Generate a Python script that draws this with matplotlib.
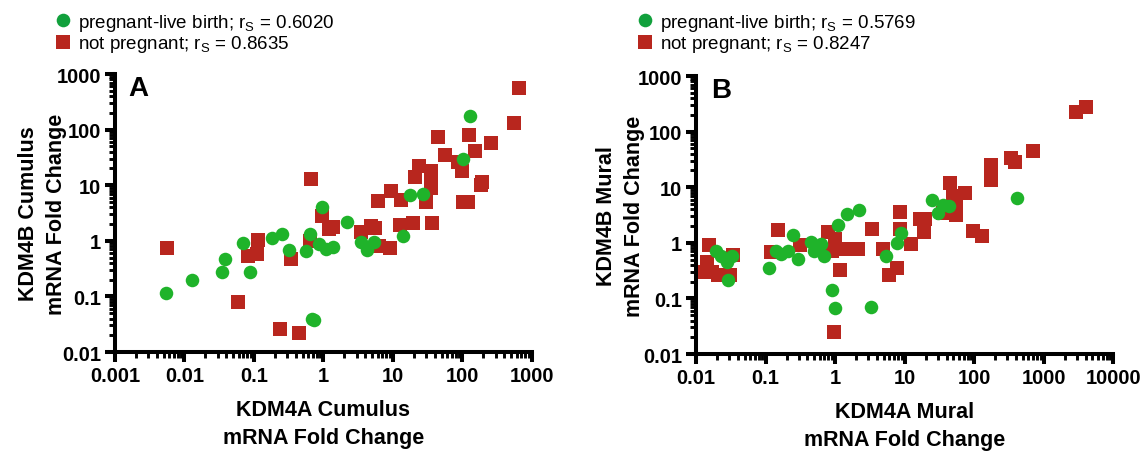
import numpy as np
import matplotlib
matplotlib.use('Agg')
import matplotlib.pyplot as plt
from matplotlib.ticker import LogLocator, FuncFormatter, NullFormatter
from matplotlib.lines import Line2D

# panel A: cumulus cells
a_live_x = [0.0055, 0.013, 0.035, 0.038, 0.07, 0.089, 0.18, 0.255, 0.32, 0.56, 0.63, 0.87,
            0.94, 1.1, 0.68, 0.72, 1.35, 3.5, 4.2, 5.4, 2.2, 14, 17.8, 27, 103, 128]
a_live_y = [0.115, 0.2, 0.27, 0.47, 0.93, 0.28, 1.12, 1.32, 0.68, 0.66, 1.32, 0.87,
            4.1, 0.71, 0.039, 0.038, 0.76, 0.96, 0.69, 0.94, 2.2, 1.2, 6.6, 6.9, 30, 178]
a_np_x = [0.0057, 0.058, 0.081, 0.11, 0.115, 0.34, 0.66, 0.94, 0.63, 0.24, 0.44, 1.2, 1.38,
          3.5, 4.8, 5.5, 6.2, 9.1, 12.6, 19.6, 36, 6, 13, 30, 102, 121, 9.3, 21, 23.6,
          35, 35, 35, 87, 98, 190, 185, 56, 44, 124, 150, 255, 550, 650]
a_np_y = [0.74, 0.08, 0.54, 0.58, 1.03, 0.47, 12.9, 2.8, 1.0, 0.026, 0.022, 1.6, 1.75,
          1.42, 1.87, 1.67, 0.81, 0.74, 1.95, 2.1, 2.1, 5.2, 5.4, 5.0, 5.0, 5.0, 8.0, 14, 22,
          18, 13, 9, 26, 18, 11.3, 10, 35, 74, 80, 42, 57, 132, 560]

# panel B: mural cells
b_live_x = [0.0194, 0.0227, 0.0276, 0.0325, 0.0286, 0.112, 0.142, 0.167, 0.213, 0.246,
            0.288, 0.447, 0.49, 0.63, 0.69, 0.89, 0.98, 1.1, 1.5, 2.2, 3.3, 5.4, 7.7, 8.8,
            24.5, 35, 43, 29.7, 410]
b_live_y = [0.72, 0.59, 0.45, 0.59, 0.21, 0.35, 0.72, 0.63, 0.70, 1.38, 0.51, 1.05, 0.72,
            0.95, 0.59, 0.14, 0.066, 2.1, 3.3, 3.9, 0.069, 0.57, 0.98, 1.48, 6.0, 4.8, 4.5,
            3.4, 6.4]
b_np_x = [0.0154, 0.0143, 0.0135, 0.0168, 0.021, 0.031, 0.0345, 0.15, 0.12, 0.316, 0.8,
          1.0, 0.9, 1.18, 1.55, 2.1, 1.18, 0.97, 3.4, 4.9, 5.9, 7.7, 8.6, 8.6, 12.3, 16.6,
          19.5, 19, 35, 55, 55, 50, 74, 45, 95, 130, 173, 173, 173, 340, 380, 690, 2930, 4070]
b_np_y = [0.91, 0.45, 0.30, 0.30, 0.26, 0.26, 0.60, 1.7, 0.68, 0.91, 1.58, 1.17, 0.72,
          0.76, 0.76, 0.76, 0.32, 0.025, 1.78, 0.78, 0.26, 0.35, 3.6, 1.78, 0.95, 2.7, 2.7,
          1.55, 3.5, 4.4, 3.1, 6.9, 7.8, 12, 1.65, 1.35, 25, 18.6, 13.6, 34, 28, 45, 230, 280]

a_labels = ['pregnant-live birth; r$_\\mathrm{S}$ = 0.6020', 'not pregnant; r$_\\mathrm{S}$ = 0.8635']
b_labels = ['pregnant-live birth; r$_\\mathrm{S}$ = 0.5769', 'not pregnant; r$_\\mathrm{S}$ = 0.8247']

GREEN = '#1fb32a'
GREEN_KEY = '#11a03c'
RED = '#b8261e'

plt.rcParams['font.family'] = ['Liberation Sans', 'DejaVu Sans']
plt.rcParams['font.weight'] = 'bold'
plt.rcParams['axes.labelweight'] = 'bold'
plt.rcParams['mathtext.fontset'] = 'custom'
plt.rcParams['mathtext.rm'] = 'Liberation Sans:weight=normal'

fig = plt.figure(figsize=(11.45, 4.52), dpi=100)
axA = fig.add_axes([0.1004, 0.219, 0.3642, 0.615])
axB = fig.add_axes([0.6079, 0.2146, 0.3645, 0.615])


def style(ax, xlim, ylim):
    ax.set_xscale('log')
    ax.set_yscale('log')
    ax.set_xlim(xlim)
    ax.set_ylim(ylim)
    for s in ['top', 'right']:
        ax.spines[s].set_visible(False)
    for s in ['left', 'bottom']:
        ax.spines[s].set_linewidth(2.9)
    for axis in [ax.xaxis, ax.yaxis]:
        axis.set_major_locator(LogLocator(base=10, numticks=20))
        axis.set_minor_locator(LogLocator(base=10, subs=np.arange(2, 10), numticks=20))
        axis.set_major_formatter(FuncFormatter(lambda v, p: f'{v:g}'))
        axis.set_minor_formatter(NullFormatter())
    ax.tick_params(which='major', length=7, width=2.9, labelsize=14.5, pad=3)
    ax.tick_params(which='minor', length=4.5, width=2.1)


def draw(ax, lx, ly, nx, ny):
    ax.scatter(nx, ny, marker='s', s=100, color=RED, linewidths=0, zorder=3, clip_on=False)
    ax.scatter(lx, ly, marker='o', s=95, color=GREEN, linewidths=0, zorder=4, clip_on=False)


draw(axA, a_live_x, a_live_y, a_np_x, a_np_y)
draw(axB, b_live_x, b_live_y, b_np_x, b_np_y)
style(axA, (0.001, 1000), (0.01, 1000))
style(axB, (0.01, 10000), (0.01, 1000))

axA.set_xlabel('KDM4A Cumulus\nmRNA Fold Change', fontsize=15.5, linespacing=1.42)
axA.set_ylabel('KDM4B Cumulus\nmRNA Fold Change', fontsize=15.5, linespacing=1.45)
axB.set_xlabel('KDM4A Mural\nmRNA Fold Change', fontsize=15.5, linespacing=1.42)
axB.set_ylabel('KDM4B Mural\nmRNA Fold Change', fontsize=15.5, linespacing=1.45)
axA.xaxis.set_label_coords(0.5, -0.17)
axB.xaxis.set_label_coords(0.5, -0.17)
axA.yaxis.set_label_coords(-0.115, 0.5)
axB.yaxis.set_label_coords(-0.123, 0.5)

axA.text(0.033, 0.995, 'A', transform=axA.transAxes, fontsize=20, va='top', ha='left')
axB.text(0.036, 0.995, 'B', transform=axB.transAxes, fontsize=20, va='top', ha='left')

for labels, x0 in [(a_labels, 56 / 1145), (b_labels, 638 / 1145)]:
    handles = [Line2D([], [], ls='', marker='o', markersize=9.8, color=GREEN_KEY, markeredgewidth=0),
               Line2D([], [], ls='', marker='s', markersize=10, color=RED, markeredgewidth=0)]
    fig.legend(handles, labels, loc='upper left', bbox_to_anchor=(x0, 1 - 13 / 452),
               frameon=False, prop={'size': 13.5, 'weight': 'normal'}, handlelength=0.75,
               handletextpad=0.45, labelspacing=0.02, borderpad=0, borderaxespad=0)

fig.savefig('out.png', dpi=100)
